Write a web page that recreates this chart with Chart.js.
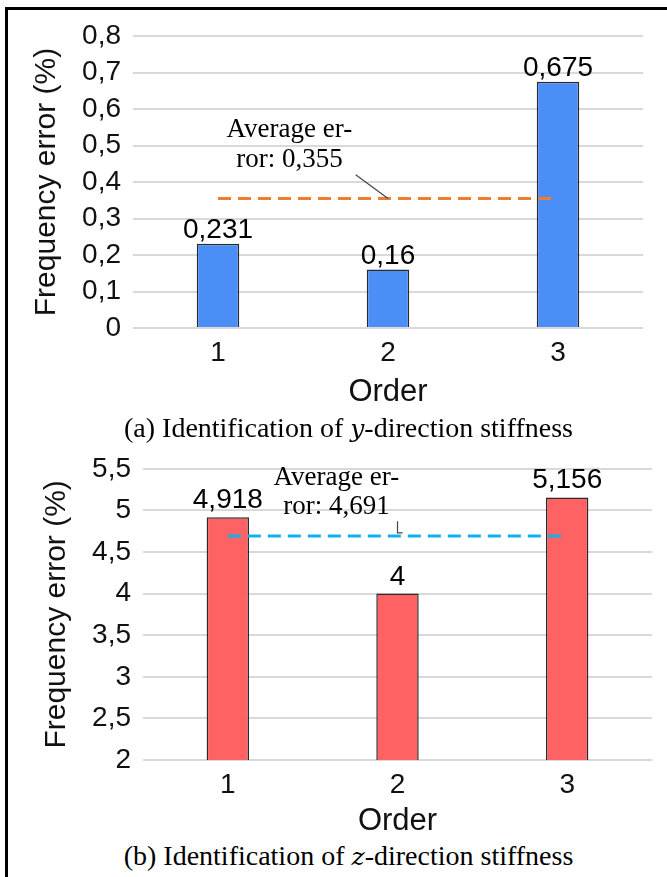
<!DOCTYPE html>
<html>
<head>
<meta charset="utf-8">
<script src="https://cdn.jsdelivr.net/npm/chart.js@4.4.1/dist/chart.umd.min.js"></script>
<style>
  body { margin: 0; width: 667px; height: 877px; background: #fff; position: relative; overflow: hidden; }
  .box { position: absolute; }
  .caption { position: absolute; left: 0; width: 697px; text-align: center; font-family: "Liberation Serif", "Times New Roman", serif; font-size: 28px; color: #000; }
  .caption i { font-family: "DejaVu Serif", serif; font-size: 25px; }
</style>
</head>
<body>
<div class="box" style="left:0;top:0;width:667px;height:412px"><canvas id="chartY"></canvas></div>
<div class="box" style="left:0;top:440px;width:667px;height:400px"><canvas id="chartZ"></canvas></div>
<div class="caption" style="top:412px">(a) Identification of <i>y</i>-direction stiffness</div>
<div class="caption" style="top:840px">(b) Identification of <i>z</i>-direction stiffness</div>
<div style="position:absolute;left:5px;top:7px;width:662px;height:3px;background:#000"></div>
<div style="position:absolute;left:5px;top:7px;width:3px;height:870px;background:#000"></div>
<script>
Chart.defaults.font.family = '"Liberation Sans", Arial, sans-serif';
Chart.defaults.color = '#111';

const orders = ['1', '2', '3'];

// (a) y-direction
const errY = [0.231, 0.16, 0.675];
const avgY = 0.355;
const avgTextY = ['Average er-', 'ror: 0,355'];

// (b) z-direction
const errZ = [4.918, 4, 5.156];
const avgZ = 4.691;
const avgTextZ = ['Average er-', 'ror: 4,691'];

function comma(v) {
  return String(Number(v.toFixed(3))).replace('.', ',');
}

// value labels over bars + the "Average error" note with its leader line
const notes = {
  id: 'notes',
  afterDatasetsDraw(chart, args, opts) {
    const ctx = chart.ctx;
    const x = chart.scales.x, y = chart.scales.y;
    ctx.save();
    ctx.fillStyle = '#000';
    ctx.font = '28px "Liberation Sans", Arial, sans-serif';
    ctx.textAlign = 'center';
    ctx.textBaseline = 'alphabetic';
    chart.getDatasetMeta(1).data.forEach((bar, i) => {
      ctx.fillText(comma(chart.data.datasets[1].data[i]), bar.x, bar.y - opts.labelGap);
    });
    ctx.font = '27px "Liberation Serif", "Times New Roman", serif';
    ctx.textBaseline = 'middle';
    opts.text.forEach((t, i) => {
      ctx.fillText(t, x.getPixelForValue(opts.textAt[0]), y.getPixelForValue(opts.textAt[1 + i]));
    });
    ctx.strokeStyle = '#444';
    ctx.lineWidth = 1.2;
    ctx.beginPath();
    opts.leader.forEach((p, i) => {
      const px = x.getPixelForValue(p[0]), py = y.getPixelForValue(p[1]);
      if (i === 0) ctx.moveTo(px, py); else ctx.lineTo(px, py);
    });
    ctx.stroke();
    ctx.restore();
  }
};

function makeChart(id, vals, avg, barColor, lineColor, yMin, yMax, step, L, extra) {
  return new Chart(document.getElementById(id), {
    type: 'bar',
    data: {
      labels: orders,
      datasets: [
        {
          type: 'line',
          data: orders.map(() => avg),
          borderColor: lineColor,
          borderWidth: 3,
          borderDash: [13, 7],
          pointRadius: 0,
          order: 0
        },
        {
          data: vals,
          backgroundColor: barColor,
          borderColor: '#2a2a2a',
          borderWidth: 1.5,
          barPercentage: 0.25,
          categoryPercentage: 1,
          order: 1
        }
      ]
    },
    options: {
      animation: false,
      responsive: true,
      maintainAspectRatio: false,
      layout: { padding: { top: L.top, right: L.right, left: 0, bottom: 0 } },
      plugins: {
        legend: { display: false },
        tooltip: { enabled: false },
        notes: extra
      },
      scales: {
        x: {
          afterFit: s => { s.height = L.xh; },
          grid: { display: false, drawTicks: false },
          border: { display: false },
          ticks: { font: { size: 28 }, color: '#111', padding: L.xpad },
          title: { display: true, text: 'Order', font: { size: 31 }, color: '#111', padding: { top: 0, bottom: L.tpad } }
        },
        y: {
          min: yMin, max: yMax,
          afterFit: s => { s.width = L.yw; },
          grid: { color: '#d9d9d9', lineWidth: 2, drawTicks: false },
          border: { display: false },
          ticks: { stepSize: step, autoSkip: false, font: { size: 28 }, color: '#111', padding: 12, callback: v => comma(v) },
          title: { display: true, text: 'Frequency error (%)', font: { size: 30 }, color: '#111', padding: { top: L.ytpad, bottom: 0 } }
        }
      }
    },
    plugins: [notes]
  });
}

makeChart('chartY', errY, avgY, '#4a8ef6', '#ed7d31', 0, 0.8, 0.1,
  { top: 36, right: 24, xh: 84, yw: 133, xpad: 8, tpad: 1, ytpad: 29 },
  { labelGap: 6, text: avgTextY, textAt: [0.42, 0.542, 0.46], leader: [[0.81, 0.42], [1.0, 0.355]] });

makeChart('chartZ', errZ, avgZ, '#ff6262', '#13b0ee', 2, 5.5, 0.5,
  { top: 26, right: 15, xh: 80, yw: 143, xpad: 8, tpad: 0, ytpad: 39 },
  { labelGap: 9, text: avgTextZ, textAt: [0.64, 5.39, 5.036], leader: [[1.0, 4.87], [1.0, 4.73], [1.03, 4.73]] });
</script>
</body>
</html>
